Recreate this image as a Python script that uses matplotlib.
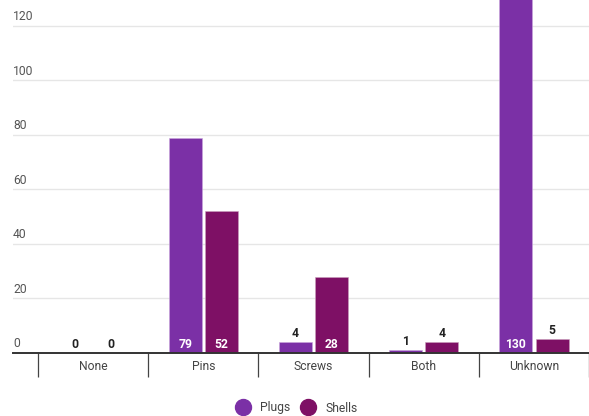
import matplotlib as mpl
mpl.use("Agg")
import matplotlib.pyplot as plt
from matplotlib.lines import Line2D
from matplotlib.transforms import offset_copy, blended_transform_factory
import numpy as np

# data
categories = ["None", "Pins", "Screws", "Both", "Unknown"]
plugs = [0, 79, 4, 1, 130]
shells = [0, 52, 28, 4, 5]
series_names = ["Plugs", "Shells"]
y_ticks = [0, 20, 40, 60, 80, 100, 120]

plug_color = "#7b30a6"
shell_color = "#7e1065"

plt.rcParams["font.family"] = ["Roboto", "DejaVu Sans"]

fig = plt.figure(figsize=(5.89, 4.16), dpi=100)
ax = fig.add_axes([13 / 589, 63 / 416, 576 / 589, 353 / 416])

x = np.arange(len(categories))
w = 0.3
off = 0.165
b1 = ax.bar(x - off, plugs, w, color=plug_color, edgecolor="#c9a6dc", linewidth=0.4, zorder=3)
b2 = ax.bar(x + off, shells, w, color=shell_color, edgecolor="#c9a0bc", linewidth=0.4, zorder=3)

ax.set_xlim(-0.727, 4.5)
ax.set_ylim(0, 129.5)

# gridlines with labels sitting above them
for v in y_ticks:
    if v > 0:
        ax.axhline(v, color="#e6e6e6", lw=1, zorder=1)
    ax.text(0, v, str(v), transform=offset_copy(
        blended_transform_factory(ax.transAxes, ax.transData), fig=fig, x=0, y=2, units="points"),
        ha="left", va="bottom", fontsize=8.7, color="#555555")

ax.axhline(0, color="#333333", lw=1.4, zorder=4, clip_on=False)

# value labels: white inside tall bars, black above short ones
for bars, vals in ((b1, plugs), (b2, shells)):
    for rect, v in zip(bars, vals):
        cx = rect.get_x() + rect.get_width() / 2
        if v >= 20:
            ax.text(cx, 0, str(v), transform=offset_copy(ax.transData, fig=fig, x=0, y=1.5, units="points"),
                    ha="center", va="bottom", fontsize=8.7, fontweight="bold", color="white", zorder=5)
        else:
            ax.text(cx, v, str(v), transform=offset_copy(ax.transData, fig=fig, x=0, y=1.5, units="points"),
                    ha="center", va="bottom", fontsize=8.7, fontweight="bold", color="#222222", zorder=5)

for s in ax.spines.values():
    s.set_visible(False)
ax.set_yticks([])
ax.set_xticks(x)
ax.set_xticklabels(categories, fontsize=8.7, color="#444444")
ax.tick_params(axis="x", which="major", length=0, pad=5)
ax.set_xticks(np.arange(-0.5, 5.0, 1.0), minor=True)
ax.tick_params(axis="x", which="minor", length=17, width=0.9, color="#444444", direction="out")

handles = [Line2D([], [], marker="o", ls="", markersize=11.5, color=c) for c in (plug_color, shell_color)]
fig.legend(handles, series_names, loc="center", bbox_to_anchor=(294 / 589, 1 - 408 / 416),
           ncol=2, frameon=False, fontsize=8.7, handletextpad=0.4, columnspacing=0.5,
           labelcolor="#444444")

fig.savefig("out.png", dpi=100)
